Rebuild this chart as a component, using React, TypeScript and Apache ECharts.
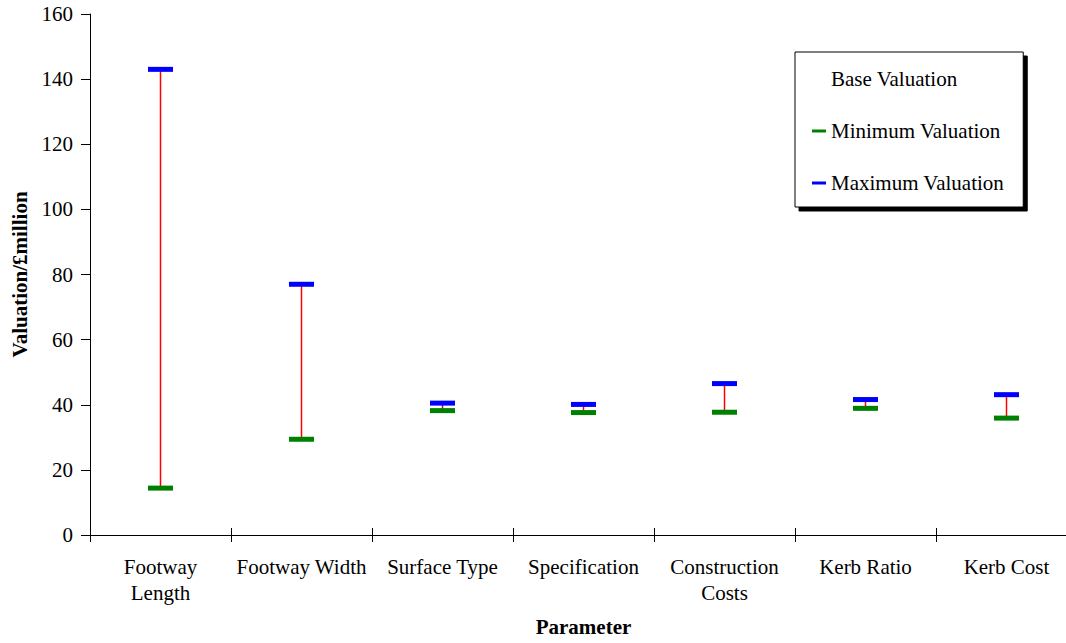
import React, { useEffect, useRef } from "react";
import * as echarts from "echarts";

const categories = [
  "Footway\nLength",
  "Footway Width",
  "Surface Type",
  "Specification",
  "Construction\nCosts",
  "Kerb Ratio",
  "Kerb Cost",
];
const minValuation = [14.4, 29.4, 38.2, 37.6, 37.7, 38.9, 35.9];
const maxValuation = [143.0, 77.0, 40.5, 40.1, 46.5, 41.6, 43.1];
const yTicks = { min: 0, max: 160, interval: 20 };

const FONT = "Liberation Serif, Times New Roman, serif";
const FS = 21;

export default function App() {
  const ref = useRef<HTMLDivElement>(null);
  useEffect(() => {
    if (!ref.current) return;
    const chart = echarts.init(ref.current, null, { renderer: "svg" });
    const rangeData = categories.map((_, i) => [i, minValuation[i], maxValuation[i]]);
    chart.setOption({
      animation: false,
      backgroundColor: "#fff",
      textStyle: { fontFamily: FONT, color: "#000" },
      grid: { left: 90, top: 14, bottom: 108, width: 987, containLabel: false },
      legend: {
        orient: "vertical",
        left: 795,
        top: 52,
        padding: [16, 19, 13, 17],
        itemGap: 30,
        itemWidth: 14,
        itemHeight: 3,
        selectedMode: false,
        backgroundColor: "#fff",
        borderColor: "#000",
        borderWidth: 1,
        shadowColor: "#000",
        shadowBlur: 0,
        shadowOffsetX: 4,
        shadowOffsetY: 4,
        textStyle: { fontFamily: FONT, fontSize: FS, color: "#000", lineHeight: 22 },
        data: [
          { name: "Base Valuation", icon: "rect", itemStyle: { color: "rgba(0,0,0,0)", opacity: 0 } },
          { name: "Minimum Valuation", icon: "rect" },
          { name: "Maximum Valuation", icon: "rect" },
        ],
      },
      xAxis: [
        {
          type: "category",
          data: categories,
          position: "bottom",
          boundaryGap: true,
          axisLine: { show: true, lineStyle: { color: "#000", width: 1 } },
          axisTick: { show: true, inside: false, length: 7, lineStyle: { color: "#000" } },
          axisLabel: {
            fontFamily: FONT,
            fontSize: FS,
            color: "#000",
            lineHeight: 26,
            margin: 19,
            interval: 0,
          },
          splitLine: { show: false },
          name: "Parameter",
          nameLocation: "middle",
          nameGap: 81,
          nameTextStyle: { fontFamily: FONT, fontSize: FS, fontWeight: "bold", color: "#000" },
        },
        {
          type: "category",
          data: categories,
          position: "bottom",
          boundaryGap: true,
          axisLine: { show: false },
          axisTick: { show: true, inside: true, length: 7, lineStyle: { color: "#000" } },
          axisLabel: { show: false },
          splitLine: { show: false },
        },
      ],
      yAxis: {
        type: "value",
        min: yTicks.min,
        max: yTicks.max,
        interval: yTicks.interval,
        axisLine: { show: true, lineStyle: { color: "#000", width: 1 } },
        axisTick: { show: true, inside: false, length: 9, lineStyle: { color: "#000" } },
        axisLabel: { fontFamily: FONT, fontSize: FS, color: "#000", margin: 17 },
        splitLine: { show: false },
        name: "Valuation/£million",
        nameLocation: "middle",
        nameGap: 60,
        nameTextStyle: { fontFamily: FONT, fontSize: FS, fontWeight: "bold", color: "#000" },
      },
      series: [
        {
          type: "custom",
          name: "range",
          xAxisIndex: 0,
          data: rangeData,
          z: 1,
          renderItem: (params: any, api: any) => {
            const p1 = api.coord([api.value(0), api.value(1)]);
            const p2 = api.coord([api.value(0), api.value(2)]);
            return {
              type: "line",
              shape: { x1: p1[0], y1: p1[1], x2: p2[0], y2: p2[1] },
              style: { stroke: "#ff0000", lineWidth: 1.5 },
            };
          },
        },
        {
          type: "scatter",
          name: "Base Valuation",
          data: [],
          itemStyle: { color: "rgba(0,0,0,0)" },
        },
        {
          type: "scatter",
          name: "Minimum Valuation",
          xAxisIndex: 0,
          data: minValuation.map((v, i) => [i, v]),
          symbol: "rect",
          symbolSize: [25, 5],
          itemStyle: { color: "#008000", opacity: 1 },
          z: 3,
        },
        {
          type: "scatter",
          name: "Maximum Valuation",
          xAxisIndex: 0,
          data: maxValuation.map((v, i) => [i, v]),
          symbol: "rect",
          symbolSize: [25, 5],
          itemStyle: { color: "#0000ff", opacity: 1 },
          z: 3,
        },
      ],
    });
    return () => chart.dispose();
  }, []);
  return (
    <div
      style={{
        position: "absolute",
        left: 0,
        top: 0,
        width: 1066,
        height: 643,
        overflow: "hidden",
      }}
    >
      <div ref={ref} style={{ width: 1085, height: 643 }} />
    </div>
  );
}
